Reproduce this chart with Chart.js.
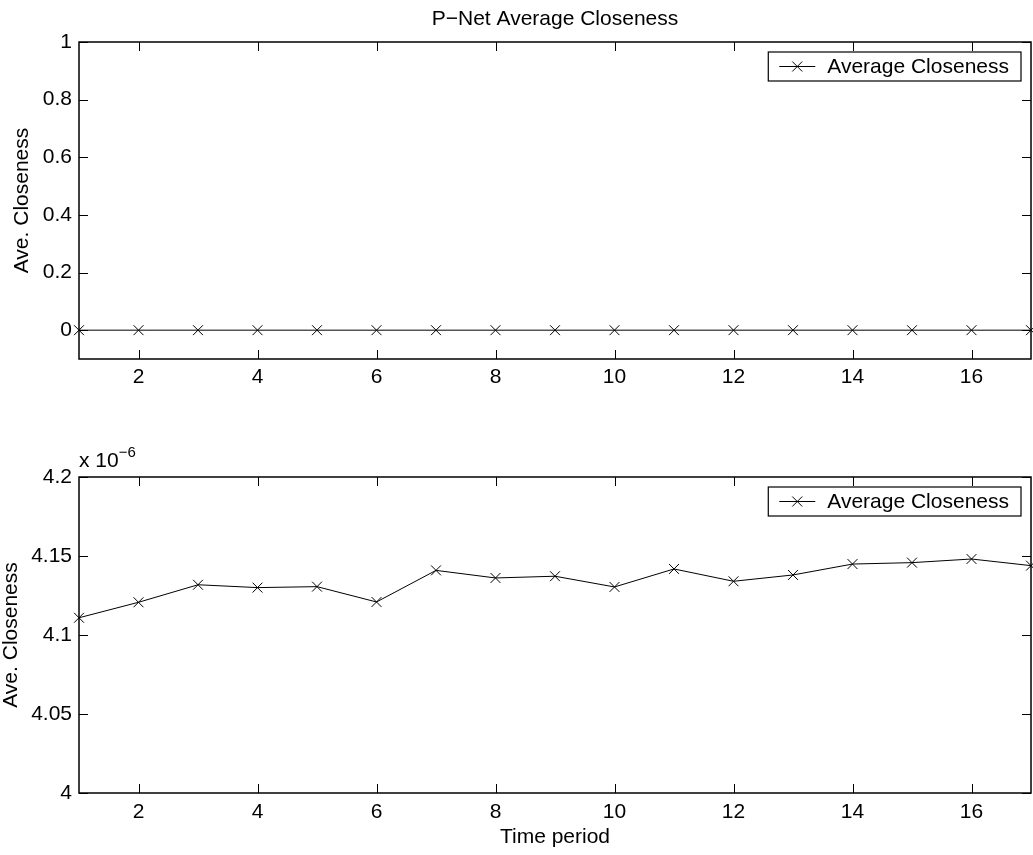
<!DOCTYPE html>
<html>
<head>
<meta charset="utf-8">
<title>P−Net Average Closeness</title>
<script src="https://cdn.jsdelivr.net/npm/chart.js@4"></script>
<style>
  html, body { margin: 0; background: #fff; overflow: hidden; }
  canvas { position: absolute; left: 0; }
</style>
</head>
<body>
<canvas id="fullChart" width="1039" height="430" style="top:0"></canvas>
<canvas id="zoomChart" width="1039" height="425" style="top:430px"></canvas>
<script>
// time periods and average closeness per period
const periods = [1, 2, 3, 4, 5, 6, 7, 8, 9, 10, 11, 12, 13, 14, 15, 16, 17];
const closenessFull = [0, 0, 0, 0, 0, 0, 0, 0, 0, 0, 0, 0, 0, 0, 0, 0, 0];
const closenessZoom = [
  4.1109e-6, 4.1207e-6, 4.1318e-6, 4.1300e-6, 4.1306e-6, 4.1209e-6,
  4.1409e-6, 4.1361e-6, 4.1372e-6, 4.1304e-6, 4.1418e-6, 4.1340e-6,
  4.1380e-6, 4.1449e-6, 4.1458e-6, 4.1481e-6, 4.1439e-6
];
const periodTicks = [2, 4, 6, 8, 10, 12, 14, 16];
const fullTicks = [0, 0.2, 0.4, 0.6, 0.8, 1];
const zoomTicks = [4e-6, 4.05e-6, 4.1e-6, 4.15e-6, 4.2e-6];

Chart.defaults.font.family = '"Liberation Sans", Arial, Helvetica, sans-serif';
Chart.defaults.font.size = 21;
Chart.defaults.color = '#000';

const FONT = '21px "Liberation Sans", Arial, Helvetica, sans-serif';
const TICK_LEN = 9;

// box around the plot, inward ticks on all four sides, legend in the corner
const boxAxes = {
  id: 'boxAxes',
  beforeDatasetsDraw(chart) {
    const {ctx, chartArea: a, scales} = chart;
    ctx.save();
    ctx.strokeStyle = '#000';
    ctx.lineWidth = 1.5;
    ctx.strokeRect(a.left, a.top, a.right - a.left, a.bottom - a.top);
    ctx.lineWidth = 1;
    ctx.beginPath();
    scales.x.ticks.forEach(t => {
      const px = Math.round(scales.x.getPixelForValue(t.value)) + 0.5;
      ctx.moveTo(px, a.bottom); ctx.lineTo(px, a.bottom - TICK_LEN);
      ctx.moveTo(px, a.top); ctx.lineTo(px, a.top + TICK_LEN);
    });
    scales.y.ticks.forEach(t => {
      const py = Math.round(scales.y.getPixelForValue(t.value)) + 0.5;
      ctx.moveTo(a.left, py); ctx.lineTo(a.left + TICK_LEN, py);
      ctx.moveTo(a.right, py); ctx.lineTo(a.right - TICK_LEN, py);
    });
    ctx.stroke();
    ctx.restore();
  },
  afterDraw(chart, args, opts) {
    const {ctx, chartArea: a} = chart;
    const label = chart.data.datasets[0].label;
    ctx.save();
    ctx.font = FONT;
    const w = ctx.measureText(label).width + 71;
    const h = 29;
    const left = a.right - 10 - w;
    const top = a.top + 10;
    ctx.fillStyle = '#fff';
    ctx.fillRect(left, top, w, h);
    ctx.strokeStyle = '#000';
    ctx.lineWidth = 1.2;
    ctx.strokeRect(left, top, w, h);
    const my = top + h / 2;
    ctx.lineWidth = 1;
    ctx.beginPath();
    ctx.moveTo(left + 11, my); ctx.lineTo(left + 47, my);
    ctx.moveTo(left + 24, my - 5); ctx.lineTo(left + 34, my + 5);
    ctx.moveTo(left + 24, my + 5); ctx.lineTo(left + 34, my - 5);
    ctx.stroke();
    ctx.fillStyle = '#000';
    ctx.textBaseline = 'middle';
    ctx.fillText(label, left + 59, my + 1);
    if (opts.exponent) {
      ctx.textBaseline = 'alphabetic';
      ctx.fillText('x 10', a.left, a.top - 10);
      const ew = ctx.measureText('x 10').width;
      ctx.font = '15px "Liberation Sans", Arial, Helvetica, sans-serif';
      ctx.fillText(opts.exponent, a.left + ew, a.top - 20);
    }
    ctx.restore();
  }
};

function setTicks(values) {
  return scale => { scale.ticks = values.map(v => ({value: v})); };
}

function makeConfig(values, yMin, yMax, yTicks, yFormat, o) {
  return {
    type: 'line',
    data: {
      datasets: [{
        label: 'Average Closeness',
        data: periods.map((p, i) => ({x: p, y: values[i]})),
        borderColor: '#000',
        borderWidth: 1,
        pointStyle: 'crossRot',
        pointRadius: 7,
        pointBorderColor: '#000',
        pointBorderWidth: 1,
        tension: 0,
        clip: false
      }]
    },
    options: {
      responsive: false,
      animation: false,
      devicePixelRatio: 1,
      layout: {padding: {left: 0, right: 2, top: o.padTop, bottom: 0}},
      plugins: {
        legend: {display: false},
        tooltip: {enabled: false},
        title: o.title ? {
          display: true,
          fullSize: false,
          text: o.title,
          font: {size: 21, weight: 'normal'},
          color: '#000',
          padding: {top: 7, bottom: 9.8}
        } : {display: false},
        boxAxes: {exponent: o.exponent}
      },
      scales: {
        x: {
          type: 'linear',
          min: 1,
          max: 17,
          afterBuildTicks: setTicks(periodTicks),
          afterFit: s => { s.height = o.xHeight; },
          grid: {display: false, drawTicks: false},
          border: {display: false},
          ticks: {padding: o.xPad, maxRotation: 0, autoSkip: false, callback: v => String(v)},
          title: o.xTitle ? {
            display: true,
            text: o.xTitle,
            font: {size: 21, lineHeight: 1},
            padding: {top: 0, bottom: 7.5}
          } : {display: false}
        },
        y: {
          min: yMin,
          max: yMax,
          afterBuildTicks: setTicks(yTicks),
          afterFit: s => { s.width = 79; },
          grid: {display: false, drawTicks: false},
          border: {display: false},
          ticks: {padding: 7, callback: yFormat},
          title: {
            display: true,
            text: 'Ave. Closeness',
            font: {size: 21, lineHeight: 1},
            padding: {top: o.yTitlePad, bottom: 0}
          }
        }
      }
    },
    plugins: [boxAxes]
  };
}

new Chart(document.getElementById('fullChart'), makeConfig(
  closenessFull, -0.1, 1, fullTicks,
  v => String(Math.round(v * 10) / 10),
  {title: 'P−Net Average Closeness', padTop: 0, xHeight: 71, xPad: 6, yTitlePad: 12}
));

new Chart(document.getElementById('zoomChart'), makeConfig(
  closenessZoom, 4e-6, 4.2e-6, zoomTicks,
  v => String(Number((v * 1e6).toFixed(2))),
  {padTop: 47, xHeight: 62, xPad: 7, yTitlePad: 0.5, xTitle: 'Time period', exponent: '−6'}
));
</script>
</body>
</html>
